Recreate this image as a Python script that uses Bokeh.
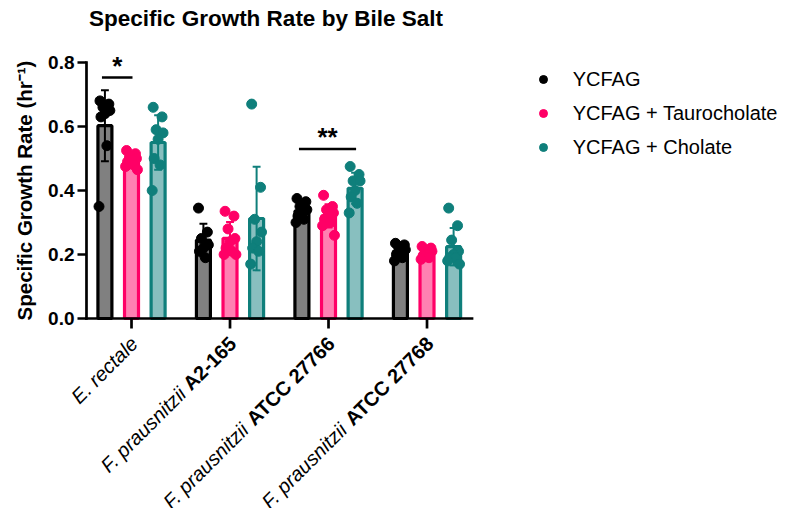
import numpy as np
from bokeh.plotting import figure
from bokeh.models import Range1d, Legend, LegendItem
from bokeh.core.properties import value
from bokeh.embed import file_html
from bokeh.resources import INLINE

# ---- data -----------------------------------------------------------------
species_part = ["E. rectale", "F. prausnitzii", "F. prausnitzii", "F. prausnitzii"]
strain_part = ["", "A2-165", "ATCC 27766", "ATCC 27768"]
conditions = ["YCFAG", "YCFAG + Taurocholate", "YCFAG + Cholate"]

# specific growth rate (hr^-1), one list of replicates per strain
ycfag = [
    [0.68, 0.67, 0.66, 0.65, 0.64, 0.63, 0.54, 0.35],
    [0.345, 0.27, 0.25, 0.23, 0.22, 0.21, 0.19],
    [0.375, 0.365, 0.35, 0.34, 0.33, 0.32, 0.31, 0.30],
    [0.235, 0.23, 0.225, 0.215, 0.21, 0.20, 0.19, 0.18],
]
taurocholate = [
    [0.525, 0.515, 0.505, 0.50, 0.495, 0.49, 0.48, 0.475, 0.465],
    [0.335, 0.32, 0.28, 0.25, 0.24, 0.22, 0.21, 0.20, 0.20],
    [0.385, 0.35, 0.34, 0.33, 0.32, 0.31, 0.30, 0.29, 0.26],
    [0.225, 0.22, 0.215, 0.21, 0.20, 0.195, 0.19, 0.185],
]
cholate = [
    [0.66, 0.63, 0.59, 0.58, 0.56, 0.50, 0.48, 0.40],
    [0.67, 0.41, 0.31, 0.27, 0.24, 0.22, 0.21, 0.17],
    [0.475, 0.45, 0.43, 0.43, 0.40, 0.38, 0.36, 0.33],
    [0.345, 0.29, 0.245, 0.21, 0.20, 0.19, 0.19, 0.18, 0.17],
]
series = [ycfag, taurocholate, cholate]

y_ticks = [0.0, 0.2, 0.4, 0.6, 0.8]
y_tick_labels = ["0.0", "0.2", "0.4", "0.6", "0.8"]
x_ticks = [0, 1, 2, 3]

# significance brackets: (strain index, condition a, condition b, stars)
comparisons = [(0, 0, 1, "*"), (2, 0, 2, "**")]
bracket_y = [0.753, 0.53]

title = "Specific Growth Rate by Bile Salt"
y_title = "Specific Growth Rate (hr\u207b\u00b9)"

# ---- styling ----------------------------------------------------------------
FONT = "Liberation Sans"
edge_colors = ["#000000", "#FF0066", "#0F7F7B"]
fill_colors = ["#808080", "#FF80B2", "#88BFBF"]
offsets = [-0.27, 0.0, 0.27]
bar_width = 0.142
cap_half = 0.04
jitter = [-0.05, 0.04, -0.02, 0.05, 0.0, -0.04, 0.02, -0.06, 0.06]

W, H = 789, 508
x_lo, x_hi = -0.457, 3.457          # extent of the drawn x axis
y_lo, y_hi = 0.0, 0.8               # extent of the drawn y axis
xr = Range1d(-1.33, 6.68)
yr = Range1d(-0.59375, 0.99375)
px_x = W / (xr.end - xr.start)      # screen pixels per x unit
px_y = H / (yr.end - yr.start)      # screen pixels per y unit

p = figure(width=W, height=H, x_range=xr, y_range=yr,
           x_axis_type=None, y_axis_type=None,
           output_backend="svg", toolbar_location=None, min_border=0)
p.title.visible = False
p.outline_line_color = None
p.xgrid.visible = False
p.ygrid.visible = False
p.background_fill_color = "white"
p.border_fill_color = "white"

txt = dict(text_font=value(FONT), text_color="black")

# ---- bars, error bars, replicate points ------------------------------------
scatter_renderers = []
for k, data in enumerate(series):
    xs_bar, means, sds = [], [], []
    px, py = [], []
    for g, vals in enumerate(data):
        arr = np.array(vals)
        xc = g + offsets[k]
        xs_bar.append(xc)
        means.append(arr.mean())
        sds.append(arr.std(ddof=1))
        for j, v in enumerate(vals):
            px.append(xc + jitter[j % len(jitter)])
            py.append(v)
    means = np.array(means)
    sds = np.array(sds)
    xs_bar = np.array(xs_bar)
    p.vbar(x=xs_bar, top=means, bottom=0, width=bar_width,
           fill_color=fill_colors[k], line_color=edge_colors[k], line_width=3.2)
    p.segment(x0=xs_bar, y0=means - sds, x1=xs_bar, y1=means + sds,
              line_color=edge_colors[k], line_width=2)
    for yy in (means + sds, means - sds):
        p.segment(x0=xs_bar - cap_half, y0=yy, x1=xs_bar + cap_half, y1=yy,
                  line_color=edge_colors[k], line_width=2)
    r = p.scatter(x=px, y=py, size=10, marker="circle",
                  fill_color=edge_colors[k], line_color=edge_colors[k])
    scatter_renderers.append(r)

# ---- significance brackets --------------------------------------------------
for (g, a, b, stars), yb in zip(comparisons, bracket_y):
    x0 = g + offsets[a] - 0.03
    x1 = g + offsets[b] + 0.01
    p.segment(x0=[x0], y0=[yb], x1=[x1], y1=[yb], line_color="black", line_width=2.5)
    p.text(x=[(x0 + x1) / 2], y=[yb], text=[stars], y_offset=-12,
           text_font_size=value("26px"), text_font_style="bold",
           text_align="center", text_baseline="alphabetic", **txt)

# ---- axes -------------------------------------------------------------------
AX_W = 2.7
p.segment(x0=[x_lo], y0=[y_lo], x1=[x_lo], y1=[y_hi], line_color="black",
          line_width=AX_W, line_cap="square")
p.segment(x0=[x_lo], y0=[y_lo], x1=[x_hi], y1=[y_lo], line_color="black",
          line_width=AX_W, line_cap="square")
# y ticks and labels
yt = np.array(y_ticks)
p.segment(x0=np.full(len(yt), x_lo - 9 / px_x), y0=yt, x1=np.full(len(yt), x_lo), y1=yt,
          line_color="black", line_width=AX_W)
p.text(x=np.full(len(yt), x_lo), y=yt, text=y_tick_labels, x_offset=-12,
       text_font_size=value("19px"), text_font_style="bold",
       text_align="right", text_baseline="middle", **txt)
p.text(x=[x_lo - 62 / px_x], y=[(y_lo + y_hi) / 2], text=[y_title], angle=90,
       angle_units="deg", text_font_size=value("20.5px"), text_font_style="bold",
       text_align="center", text_baseline="middle", **txt)
# x ticks
xt = np.array(x_ticks, dtype=float)
p.segment(x0=xt, y0=np.zeros(len(xt)), x1=xt, y1=np.full(len(xt), -10 / px_y),
          line_color="black", line_width=AX_W)

# rotated category labels: italic species name followed by bold strain name,
# both anchored at their upper-right end; positions are placed in data space
fs_x = 20
bold_adv = {"A": 722, "T": 611, "C": 722, " ": 278, "-": 333}
def bold_width(s):
    return sum(bold_adv.get(ch, 556) for ch in s) / 1000 * fs_x

end_dx, end_dy = -5, 14         # screen px from tick foot to label end (right, down)
c45 = np.cos(np.pi / 4)
for g in range(len(species_part)):
    common = dict(angle=45, angle_units="deg", text_align="right",
                  text_baseline="top", text_font_size=value(f"{fs_x}px"), **txt)
    sx, sy = end_dx, end_dy
    if strain_part[g]:
        p.text(x=[x_ticks[g] + sx / px_x], y=[-sy / px_y], text=[strain_part[g]],
               text_font_style="bold", **common)
        d = bold_width(strain_part[g]) + 0.278 * fs_x
        sx, sy = sx - d * c45, sy + d * c45
    p.text(x=[x_ticks[g] + sx / px_x], y=[-sy / px_y], text=[species_part[g]],
           text_font_style="italic", **common)

# ---- title ------------------------------------------------------------------
p.text(x=[(265.5 - 131) / px_x], y=[y_hi], text=[title], y_offset=-44,
       text_font_size=value("22.5px"), text_font_style="bold",
       text_align="center", text_baseline="alphabetic", **txt)

# ---- legend -----------------------------------------------------------------
legend = Legend(items=[LegendItem(label=c, renderers=[r])
                       for c, r in zip(conditions, scatter_renderers)],
                location=(532.7, H - 159.3), orientation="vertical",
                label_text_font=FONT, label_text_font_size="20px",
                label_text_color="black",
                glyph_width=20, glyph_height=24, label_height=24, spacing=10,
                label_standoff=20, padding=0, margin=0,
                border_line_color=None, background_fill_alpha=0)
p.add_layout(legend, "center")

open("out.html", "w").write(file_html(p, INLINE))
